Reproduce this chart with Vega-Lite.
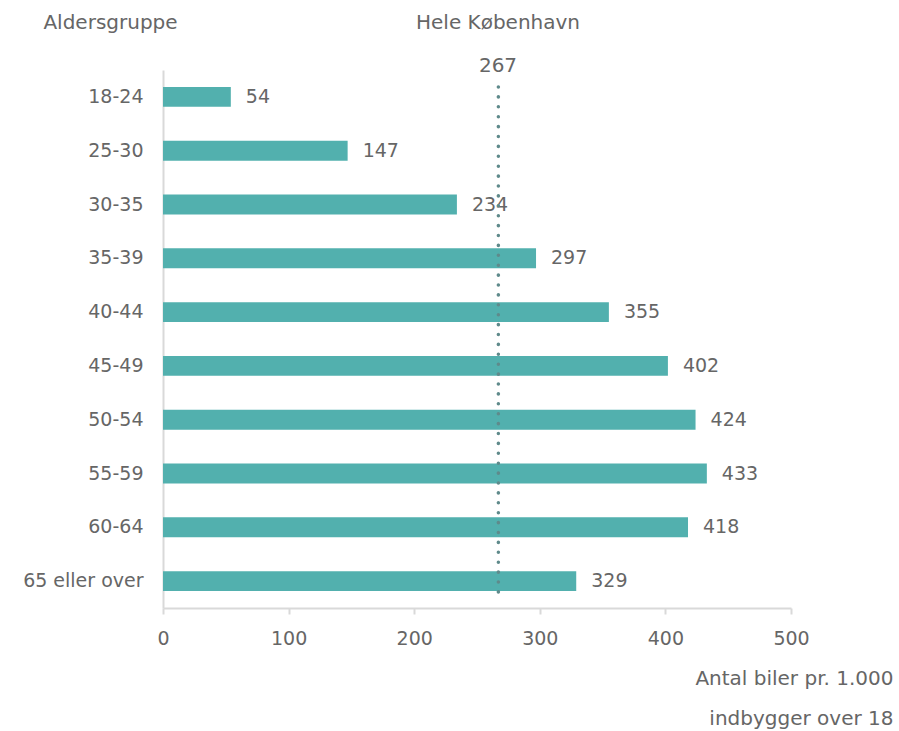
{
  "$schema": "https://vega.github.io/schema/vega-lite/v6.json",
  "autosize": "none",
  "width": 628,
  "height": 538,
  "padding": {"left": 163, "top": 70, "right": 108, "bottom": 123},
  "background": "white",
  "config": {
    "view": {"stroke": null},
    "font": "DejaVu Sans",
    "text": {"font": "DejaVu Sans"}
  },
  "title": {
    "text": "Hele København",
    "subtitle": "267",
    "anchor": "middle",
    "dx": 21,
    "fontSize": 20,
    "fontWeight": "normal",
    "color": "#666666",
    "subtitleFontSize": 20,
    "subtitleColor": "#666666",
    "subtitlePadding": 23,
    "offset": -64,
    "font": "DejaVu Sans",
    "subtitleFont": "DejaVu Sans"
  },
  "data": {
    "values": [
      {"age": "18-24", "cars": 54},
      {"age": "25-30", "cars": 147},
      {"age": "30-35", "cars": 234},
      {"age": "35-39", "cars": 297},
      {"age": "40-44", "cars": 355},
      {"age": "45-49", "cars": 402},
      {"age": "50-54", "cars": 424},
      {"age": "55-59", "cars": 433},
      {"age": "60-64", "cars": 418},
      {"age": "65 eller over", "cars": 329}
    ]
  },
  "layer": [
    {
      "mark": {"type": "bar", "color": "#52b0ae"},
      "encoding": {
        "y": {
          "field": "age",
          "type": "nominal",
          "sort": null,
          "scale": {"paddingInner": 0.63, "paddingOuter": 0.315},
          "axis": {
            "title": "Aldersgruppe",
            "titleAngle": 0,
            "titleX": -53,
            "titleY": -48,
            "titleAlign": "center",
            "titleBaseline": "middle",
            "titleFontSize": 20,
            "titleFontWeight": "normal",
            "titleColor": "#666666",
            "titleFont": "DejaVu Sans",
            "labelFontSize": 19,
            "labelColor": "#666666",
            "labelFont": "DejaVu Sans",
            "labelPadding": 20,
            "ticks": false,
            "domainColor": "#d9d9d9",
            "domainWidth": 2
          }
        },
        "x": {
          "field": "cars",
          "type": "quantitative",
          "scale": {"domain": [0, 500]},
          "axis": {
            "values": [0, 100, 200, 300, 400, 500],
            "grid": false,
            "labelFlush": false,
            "title": ["Antal biler pr. 1.000", "indbygger over 18"],
            "titleX": 730,
            "titleY": 70,
            "titleAlign": "right",
            "titleBaseline": "middle",
            "titleLineHeight": 40,
            "titleFontSize": 20,
            "titleFontWeight": "normal",
            "titleColor": "#666666",
            "titleFont": "DejaVu Sans",
            "labelFontSize": 19,
            "labelColor": "#666666",
            "labelFont": "DejaVu Sans",
            "labelPadding": 15,
            "domainColor": "#d9d9d9",
            "domainWidth": 2,
            "tickColor": "#d9d9d9",
            "tickWidth": 2,
            "tickSize": 6
          }
        }
      }
    },
    {
      "mark": {"type": "text", "align": "left", "baseline": "middle", "dx": 15, "fontSize": 19, "color": "#666666", "font": "DejaVu Sans"},
      "encoding": {
        "y": {"field": "age", "type": "nominal", "sort": null},
        "x": {"field": "cars", "type": "quantitative"},
        "text": {"field": "cars", "type": "quantitative"}
      }
    },
    {
      "data": {"values": [{"avg": 267, "top": "18-24", "bottom": "65 eller over"}]},
      "mark": {"type": "rule", "color": "#5f8a8b", "strokeWidth": 3.5, "strokeCap": "round", "strokeDash": [0.1, 9.8]},
      "encoding": {
        "x": {"field": "avg", "type": "quantitative"},
        "y": {"field": "top", "type": "nominal", "sort": null, "bandPosition": 0},
        "y2": {"field": "bottom", "bandPosition": 1.3}
      }
    }
  ]
}
